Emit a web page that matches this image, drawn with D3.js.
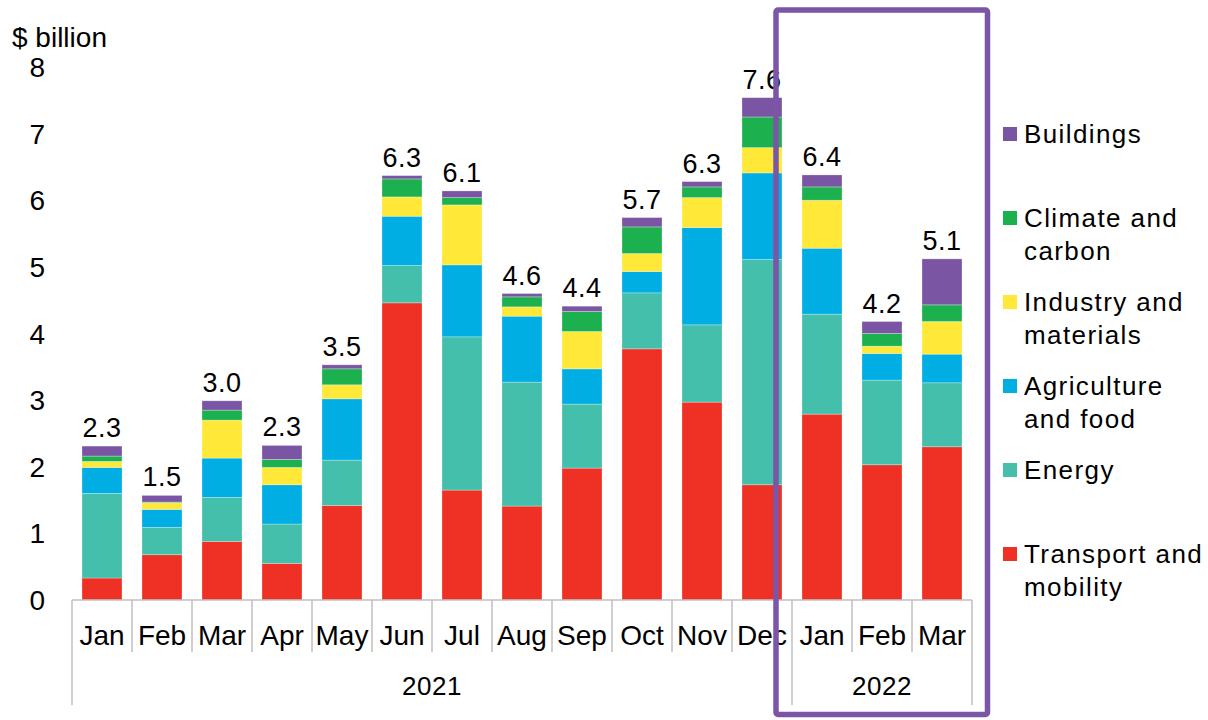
<!DOCTYPE html>
<html>
<head>
<meta charset="utf-8">
<script src="https://cdn.jsdelivr.net/npm/d3@7"></script>
<style>
  html, body { margin: 0; padding: 0; background: #fff; }
  svg { display: block; font-family: "Liberation Sans", Arial, sans-serif; }
</style>
</head>
<body>
<svg id="chart" width="1208" height="720"></svg>
<script>
// ---- Data ----
const months = ["Jan","Feb","Mar","Apr","May","Jun","Jul","Aug","Sep","Oct","Nov","Dec","Jan","Feb","Mar"];
const years = [{label: "2021", start: 0, end: 12}, {label: "2022", start: 12, end: 15}];
const totalLabels = ["2.3","1.5","3.0","2.3","3.5","6.3","6.1","4.6","4.4","5.7","6.3","7.6","6.4","4.2","5.1"];

const transport = [0.33, 0.68, 0.88, 0.55, 1.42, 4.46, 1.65, 1.41, 1.98, 3.77, 2.97, 1.73, 2.79, 2.03, 2.30];
const energy    = [1.27, 0.41, 0.66, 0.59, 0.68, 0.56, 2.30, 1.86, 0.96, 0.84, 1.16, 3.38, 1.50, 1.27, 0.96];
const agri      = [0.39, 0.27, 0.59, 0.59, 0.92, 0.74, 1.08, 0.99, 0.53, 0.32, 1.46, 1.30, 0.99, 0.40, 0.43];
const industry  = [0.09, 0.10, 0.57, 0.26, 0.21, 0.29, 0.90, 0.14, 0.56, 0.27, 0.45, 0.38, 0.72, 0.11, 0.49];
const climate   = [0.08, 0.01, 0.15, 0.12, 0.24, 0.27, 0.11, 0.15, 0.30, 0.40, 0.16, 0.46, 0.20, 0.19, 0.25];
const buildings = [0.15, 0.10, 0.14, 0.21, 0.06, 0.05, 0.10, 0.05, 0.08, 0.14, 0.08, 0.29, 0.18, 0.18, 0.69];

const seriesNames = ["Transport and mobility", "Energy", "Agriculture and food", "Industry and materials", "Climate and carbon", "Buildings"];
const seriesKeys = ["transport", "energy", "agri", "industry", "climate", "buildings"];
const seriesColors = ["#EE3124", "#43BFAB", "#00AEE3", "#FFE838", "#1CB14E", "#7A55A3"];
const yTicks = [0, 1, 2, 3, 4, 5, 6, 7, 8];

// ---- Build table ----
const seriesVals = {transport, energy, agri, industry, climate, buildings};
const table = months.map((m, i) => {
  const row = {idx: i, month: m};
  seriesKeys.forEach(k => row[k] = seriesVals[k][i]);
  return row;
});

const svg = d3.select("#chart");
const x = d3.scaleBand().domain(d3.range(months.length)).range([72, 972]).paddingInner(1/3).paddingOuter(1/6);
const y = d3.scaleLinear().domain([0, 8]).range([600, 67]);

const stack = d3.stack().keys(seriesKeys);
const stacked = stack(table);

// bars
const g = svg.append("g");
g.selectAll("g.series").data(stacked).join("g")
  .attr("fill", (d, i) => seriesColors[i])
  .selectAll("rect").data(d => d).join("rect")
  .attr("x", d => x(d.data.idx))
  .attr("width", x.bandwidth())
  .attr("y", d => y(d[1]))
  .attr("height", d => Math.max(0, y(d[0]) - y(d[1])))
  .attr("stroke", "#ffffff")
  .attr("stroke-opacity", 0.35)
  .attr("stroke-width", 0.8);

// total labels
const totals = table.map(r => d3.sum(seriesKeys, k => r[k]));
svg.append("g").selectAll("text").data(totalLabels).join("text")
  .attr("x", (d, i) => x(i) + x.bandwidth() / 2)
  .attr("y", (d, i) => y(totals[i]) - 9)
  .attr("text-anchor", "middle")
  .attr("font-size", 27)
  .attr("letter-spacing", 0.5)
  .attr("fill", "#000")
  .text(d => d);

// y axis labels
svg.append("g").selectAll("text").data(yTicks).join("text")
  .attr("x", 45)
  .attr("y", d => y(d))
  .attr("dy", "0.36em")
  .attr("text-anchor", "end")
  .attr("font-size", 28)
  .attr("fill", "#000")
  .text(d => d);

svg.append("text").attr("x", 12).attr("y", 47).attr("font-size", 28).attr("fill", "#000").text("$ billion");

// x axis
const axisColor = "#BFBFBF";
svg.append("line").attr("x1", 72).attr("x2", 972).attr("y1", 600).attr("y2", 600)
  .attr("stroke", axisColor).attr("stroke-width", 1.5);
const step = x.step();
const boundaries = d3.range(months.length + 1).map(i => 72 + i * step);
const yearBounds = new Set();
years.forEach(yr => { yearBounds.add(yr.start); yearBounds.add(yr.end); });
svg.append("g").selectAll("line").data(boundaries).join("line")
  .attr("x1", d => d).attr("x2", d => d)
  .attr("y1", 600)
  .attr("y2", (d, i) => yearBounds.has(i) ? 705 : 652)
  .attr("stroke", axisColor).attr("stroke-width", 1.5);

svg.append("g").selectAll("text").data(months).join("text")
  .attr("x", (d, i) => x(i) + x.bandwidth() / 2)
  .attr("y", 645)
  .attr("text-anchor", "middle")
  .attr("font-size", 28)
  .attr("fill", "#000")
  .text(d => d);

svg.append("g").selectAll("text").data(years).join("text")
  .attr("x", d => 72 + (d.start + d.end) / 2 * step)
  .attr("y", 695)
  .attr("text-anchor", "middle")
  .attr("font-size", 26)
  .attr("letter-spacing", 0.5)
  .attr("fill", "#000")
  .text(d => d.label);

// highlight box
svg.append("rect")
  .attr("x", 776).attr("y", 10).attr("width", 211.5).attr("height", 704.5)
  .attr("rx", 2)
  .attr("fill", "none").attr("stroke", "#7B56A6").attr("stroke-width", 5.5);

// legend
const legendOrder = [5, 4, 3, 2, 1, 0];
const legendLines = {
  "Buildings": ["Buildings"],
  "Climate and carbon": ["Climate and", "carbon"],
  "Industry and materials": ["Industry and", "materials"],
  "Agriculture and food": ["Agriculture", "and food"],
  "Energy": ["Energy"],
  "Transport and mobility": ["Transport and", "mobility"]
};
const lg = svg.append("g").selectAll("g").data(legendOrder).join("g")
  .attr("transform", (d, i) => `translate(0, ${143 + i * 84})`);
lg.append("rect").attr("x", 1003).attr("y", -16).attr("width", 14).attr("height", 14)
  .attr("fill", d => seriesColors[d]);
lg.append("text")
  .attr("x", 1024)
  .attr("font-size", 26)
  .attr("letter-spacing", 1.4)
  .attr("fill", "#000")
  .selectAll("tspan").data(d => legendLines[seriesNames[d]]).join("tspan")
  .attr("x", 1024)
  .attr("y", (d, i) => i * 32.5)
  .text(d => d);
</script>
</body>
</html>
